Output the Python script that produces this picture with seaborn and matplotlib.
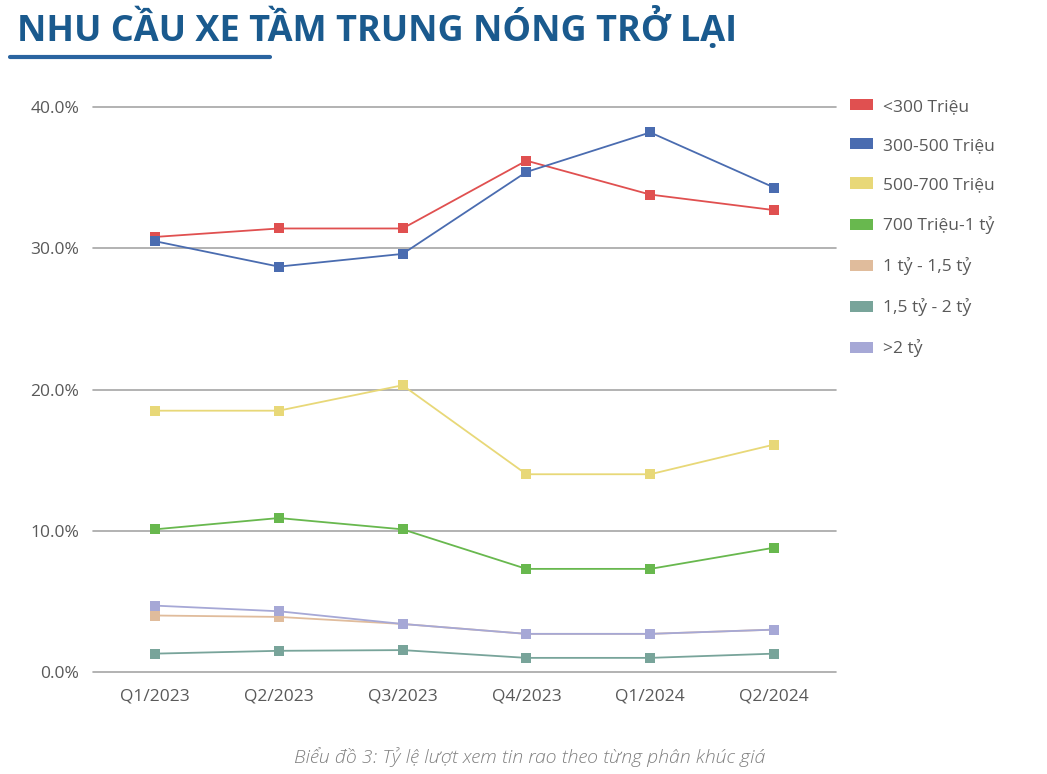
import matplotlib
matplotlib.use("Agg")
import matplotlib.pyplot as plt
import seaborn as sns
import pandas as pd
from matplotlib.lines import Line2D
from matplotlib.patches import Rectangle

quarters = ["Q1/2023", "Q2/2023", "Q3/2023", "Q4/2023", "Q1/2024", "Q2/2024"]
segments = ["<300 Triệu", "300-500 Triệu", "500-700 Triệu", "700 Triệu-1 tỷ",
            "1 tỷ - 1,5 tỷ", "1,5 tỷ - 2 tỷ", ">2 tỷ"]
s_lt300 = [30.8, 31.4, 31.4, 36.2, 33.8, 32.7]
s_300_500 = [30.5, 28.7, 29.6, 35.4, 38.2, 34.3]
s_500_700 = [18.5, 18.5, 20.3, 14.0, 14.0, 16.1]
s_700_1 = [10.1, 10.9, 10.1, 7.3, 7.3, 8.8]
s_1_15 = [4.0, 3.9, 3.4, 2.7, 2.7, 3.0]
s_15_2 = [1.3, 1.5, 1.55, 1.0, 1.0, 1.3]
s_gt2 = [4.7, 4.3, 3.4, 2.7, 2.7, 3.0]
y_ticks = [0, 10, 20, 30, 40]
y_tick_labels = ["0.0%", "10.0%", "20.0%", "30.0%", "40.0%"]

colors = ["#e05050", "#4a6cb0", "#e8d878", "#68b84e", "#e0bc9c", "#78a49a", "#a6a8d6"]
series = [s_lt300, s_300_500, s_500_700, s_700_1, s_1_15, s_15_2, s_gt2]

rows = []
for seg, vals in zip(segments, series):
    for q, v in zip(quarters, vals):
        rows.append({"quarter": q, "value": v, "segment": seg})
df = pd.DataFrame(rows)

sns.set_theme(style="white")
plt.rcParams["font.family"] = ["Open Sans", "DejaVu Sans"]

fig = plt.figure(figsize=(10.47, 7.74), dpi=100)
ax = fig.add_axes([93 / 1047, 1 - 672 / 774, (836 - 93) / 1047, (672 - 107) / 774])

sns.lineplot(data=df, x="quarter", y="value", hue="segment", hue_order=segments,
             palette=colors, marker="s", markersize=6.5, markeredgewidth=0,
             linewidth=1.3, sort=False, ax=ax, legend=False, zorder=3)

ax.set_xlim(-0.5, len(quarters) - 0.5)
ax.set_ylim(0, 40)
ax.set_yticks(y_ticks)
ax.set_yticklabels(y_tick_labels)
for yv in y_ticks:
    ax.axhline(yv, color="#a6a6a6", linewidth=1.2, zorder=1, clip_on=False)
for s in ax.spines.values():
    s.set_visible(False)
ax.set_xlabel("")
ax.set_ylabel("")
ax.tick_params(axis="both", length=0, labelsize=12.5, colors="#595959")
ax.tick_params(axis="y", pad=10)
ax.tick_params(axis="x", pad=12)
ax.grid(False)

# legend
handles = [Rectangle((0, 0), 1, 1, facecolor=c, edgecolor="none") for c in colors]
leg = fig.legend(handles, segments, loc="upper left", bbox_to_anchor=(843 / 1047, 1 - 92 / 774),
                 frameon=False, fontsize=12.5, labelcolor="#595959", handlelength=1.32,
                 handleheight=0.6, labelspacing=1.33, handletextpad=0.57, borderaxespad=0)

# title
fig.text(17 / 1047, 1 - 29 / 774, "NHU CẦU XE TẦM TRUNG NÓNG TRỞ LẠI", fontsize=26,
         fontweight="bold", color="#1a5a8e", va="center", ha="left")
fig.add_artist(Line2D([10 / 1047, 270 / 1047], [1 - 57 / 774, 1 - 57 / 774],
                      color="#2a64a0", linewidth=3, solid_capstyle="round"))

fig.text(530 / 1047, 1 - 757 / 774, "Biểu đồ 3: Tỷ lệ lượt xem tin rao theo từng phân khúc giá",
         fontsize=14, style="italic", fontweight="light", color="#808080", ha="center", va="center")

fig.savefig("out.png", dpi=100, facecolor="white")
